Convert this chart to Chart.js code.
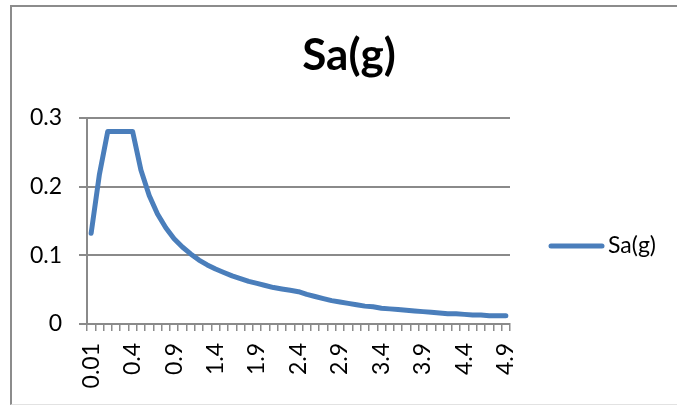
<!DOCTYPE html>
<html>
<head>
<meta charset="utf-8">
<title>Sa(g)</title>
<script src="https://cdn.jsdelivr.net/npm/chart.js@4/dist/chart.umd.min.js"></script>
<style>
  html, body { margin: 0; padding: 0; background: #fff; overflow: hidden; }
  body { width: 677px; height: 405px; position: relative; }
  #frame {
    position: absolute; left: 10px; top: 5px; width: 700px; height: 397px;
    border-top: 2px solid #8c8c8c; border-left: 2px solid #8c8c8c;
    border-bottom: 1px solid #e2e2e2;
  }
  #wrap { position: absolute; left: 11px; top: 6px; width: 676px; height: 399px; }
</style>
</head>
<body>
<div id="frame"></div>
<div id="wrap"><canvas id="chart" width="676" height="399"></canvas></div>
<script>
// Period T (s) for each point on the category axis
const periods = [
  '0.01', '0.1', '0.15', '0.2', '0.3',
  '0.4', '0.5', '0.6', '0.7', '0.8', '0.9',
  '1', '1.1', '1.2', '1.3', '1.4', '1.5', '1.6', '1.7', '1.8', '1.9',
  '2', '2.1', '2.2', '2.3', '2.4', '2.5', '2.6', '2.7', '2.8', '2.9',
  '3', '3.1', '3.2', '3.3', '3.4', '3.5', '3.6', '3.7', '3.8', '3.9',
  '4', '4.1', '4.2', '4.3', '4.4', '4.5', '4.6', '4.7', '4.8', '4.9'
];

// Spectral acceleration Sa (g)
const saValues = [
  0.132, 0.218, 0.280, 0.280, 0.280,
  0.280, 0.224, 0.187, 0.160, 0.140, 0.124,
  0.112, 0.102, 0.093, 0.086, 0.080, 0.075, 0.070, 0.066, 0.062, 0.059,
  0.056, 0.053, 0.051, 0.049, 0.047, 0.043, 0.040, 0.037, 0.034, 0.032,
  0.030, 0.028, 0.026, 0.025, 0.023, 0.022, 0.021, 0.020, 0.019, 0.018,
  0.017, 0.016, 0.015, 0.015, 0.014, 0.013, 0.013, 0.012, 0.012, 0.012
];

const seriesName = 'Sa(g)';
const yTicks = [0, 0.1, 0.2, 0.3];
const labelEvery = 5;

const FONT = 'Lato, "Open Sans", sans-serif';
const LINE_BLUE = '#4a7ebb';
const AXIS_GRAY = '#8a8a8a';

// Legend entry on the right side of the plot
const sideLegend = {
  id: 'sideLegend',
  afterDraw(chart) {
    const ctx = chart.ctx;
    const ds = chart.data.datasets[0];
    ctx.save();
    ctx.strokeStyle = ds.borderColor;
    ctx.lineWidth = 5;
    ctx.lineCap = 'round';
    ctx.beginPath();
    ctx.moveTo(540, 240);
    ctx.lineTo(591, 240);
    ctx.stroke();
    ctx.fillStyle = '#000';
    ctx.font = '23px ' + FONT;
    ctx.textAlign = 'left';
    ctx.textBaseline = 'alphabetic';
    ctx.fillText(ds.label, 597, 247);
    ctx.restore();
  }
};

new Chart(document.getElementById('chart'), {
  type: 'line',
  data: {
    labels: periods,
    datasets: [{
      label: seriesName,
      data: saValues,
      borderColor: LINE_BLUE,
      backgroundColor: LINE_BLUE,
      borderWidth: 5,
      borderCapStyle: 'round',
      borderJoinStyle: 'round',
      pointRadius: 0,
      tension: 0,
      fill: false,
      yAxisID: 'y'
    }]
  },
  options: {
    responsive: false,
    animation: false,
    devicePixelRatio: 1,
    layout: { padding: 0 },
    plugins: {
      legend: { display: false },
      tooltip: { enabled: false },
      title: {
        display: true,
        text: seriesName,
        color: '#000',
        font: { family: FONT, size: 44, weight: 'bold', lineHeight: 1.2 },
        padding: { top: 23, bottom: 36 }
      }
    },
    scales: {
      x: {
        type: 'category',
        offset: true,
        grid: {
          offset: true,
          drawOnChartArea: false,
          drawTicks: true,
          tickLength: 7,
          color: '#8c8c8c',
          lineWidth: 1.5
        },
        border: { display: true, color: AXIS_GRAY, width: 2 },
        ticks: {
          autoSkip: false,
          maxRotation: 90,
          minRotation: 90,
          padding: 12,
          color: '#000',
          font: { family: FONT, size: 23 },
          callback: (v, i) => (i % labelEvery === 0 ? periods[i] : '')
        },
        afterFit: (s) => { s.height = 81; }
      },
      y: {
        position: 'left',
        min: yTicks[0],
        max: yTicks[yTicks.length - 1],
        afterBuildTicks: (s) => { s.ticks = yTicks.map(v => ({ value: v })); },
        grid: {
          color: AXIS_GRAY,
          lineWidth: 2,
          drawTicks: true,
          tickLength: 8
        },
        border: { display: true, color: AXIS_GRAY, width: 2 },
        ticks: {
          padding: 17,
          color: '#000',
          font: { family: FONT, size: 23 },
          callback: (v) => String(v)
        },
        afterFit: (s) => { s.width = 76; }
      },
      side: {
        position: 'right',
        display: true,
        grid: { display: false },
        border: { display: false },
        ticks: { display: false },
        afterFit: (s) => { s.width = 177; }
      }
    }
  },
  plugins: [sideLegend]
});
</script>
</body>
</html>
